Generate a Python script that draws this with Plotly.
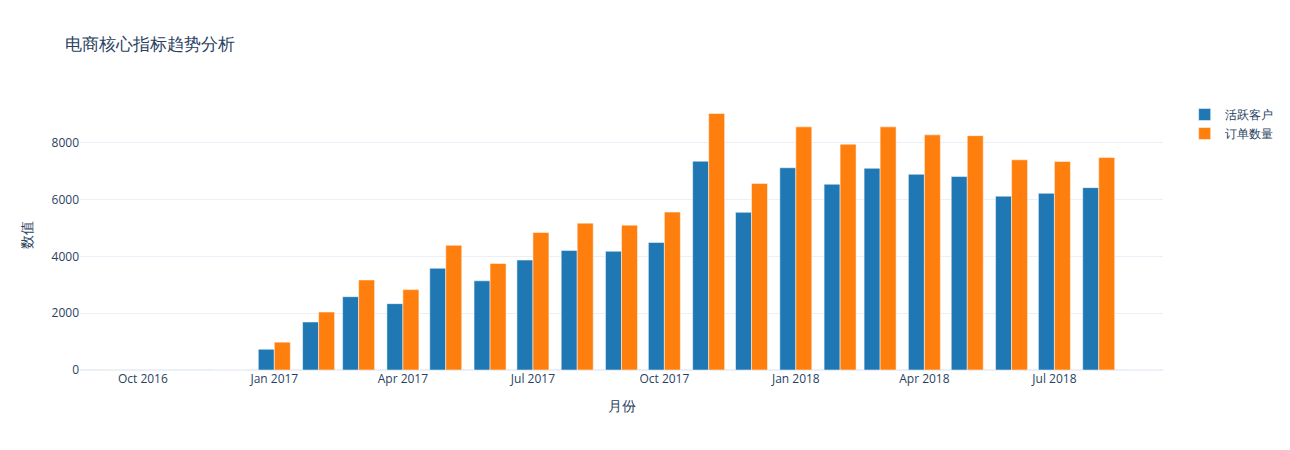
import plotly.graph_objects as go

# 月度数据 (2016-09 ~ 2018-09)
months = ["2016-09-01", "2016-12-01",
          "2017-01-01", "2017-02-01", "2017-03-01", "2017-04-01", "2017-05-01", "2017-06-01",
          "2017-07-01", "2017-08-01", "2017-09-01", "2017-10-01", "2017-11-01", "2017-12-01",
          "2018-01-01", "2018-02-01", "2018-03-01", "2018-04-01", "2018-05-01", "2018-06-01",
          "2018-07-01", "2018-08-01", "2018-09-01"]
active_customers = [4, 1,
                    730, 1690, 2580, 2335, 3580, 3140,
                    3870, 4210, 4180, 4490, 7350, 5550,
                    7120, 6540, 7100, 6890, 6810, 6120,
                    6220, 6420, 1]
order_count = [4, 1,
               980, 2040, 3170, 2830, 4390, 3750,
               4840, 5170, 5100, 5560, 9030, 6570,
               8560, 7950, 8560, 8280, 8250, 7400,
               7340, 7480, 1]

fig = go.Figure()
fig.add_trace(go.Bar(x=months, y=active_customers, name="活跃客户", marker_color="#1f77b4"))
fig.add_trace(go.Bar(x=months, y=order_count, name="订单数量", marker_color="#ff7f0e"))

fig.update_layout(
    template="plotly_white",
    title="电商核心指标趋势分析",
    xaxis_title="月份",
    yaxis_title="数值",
    barmode="group",
    width=1290,
    height=450,
)
fig.update_xaxes(type="date")

# 去掉页面默认边距, 让图从左上角开始
fig.write_html("out.html", config={"displayModeBar": False},
               post_script="document.body.style.margin='0';")
